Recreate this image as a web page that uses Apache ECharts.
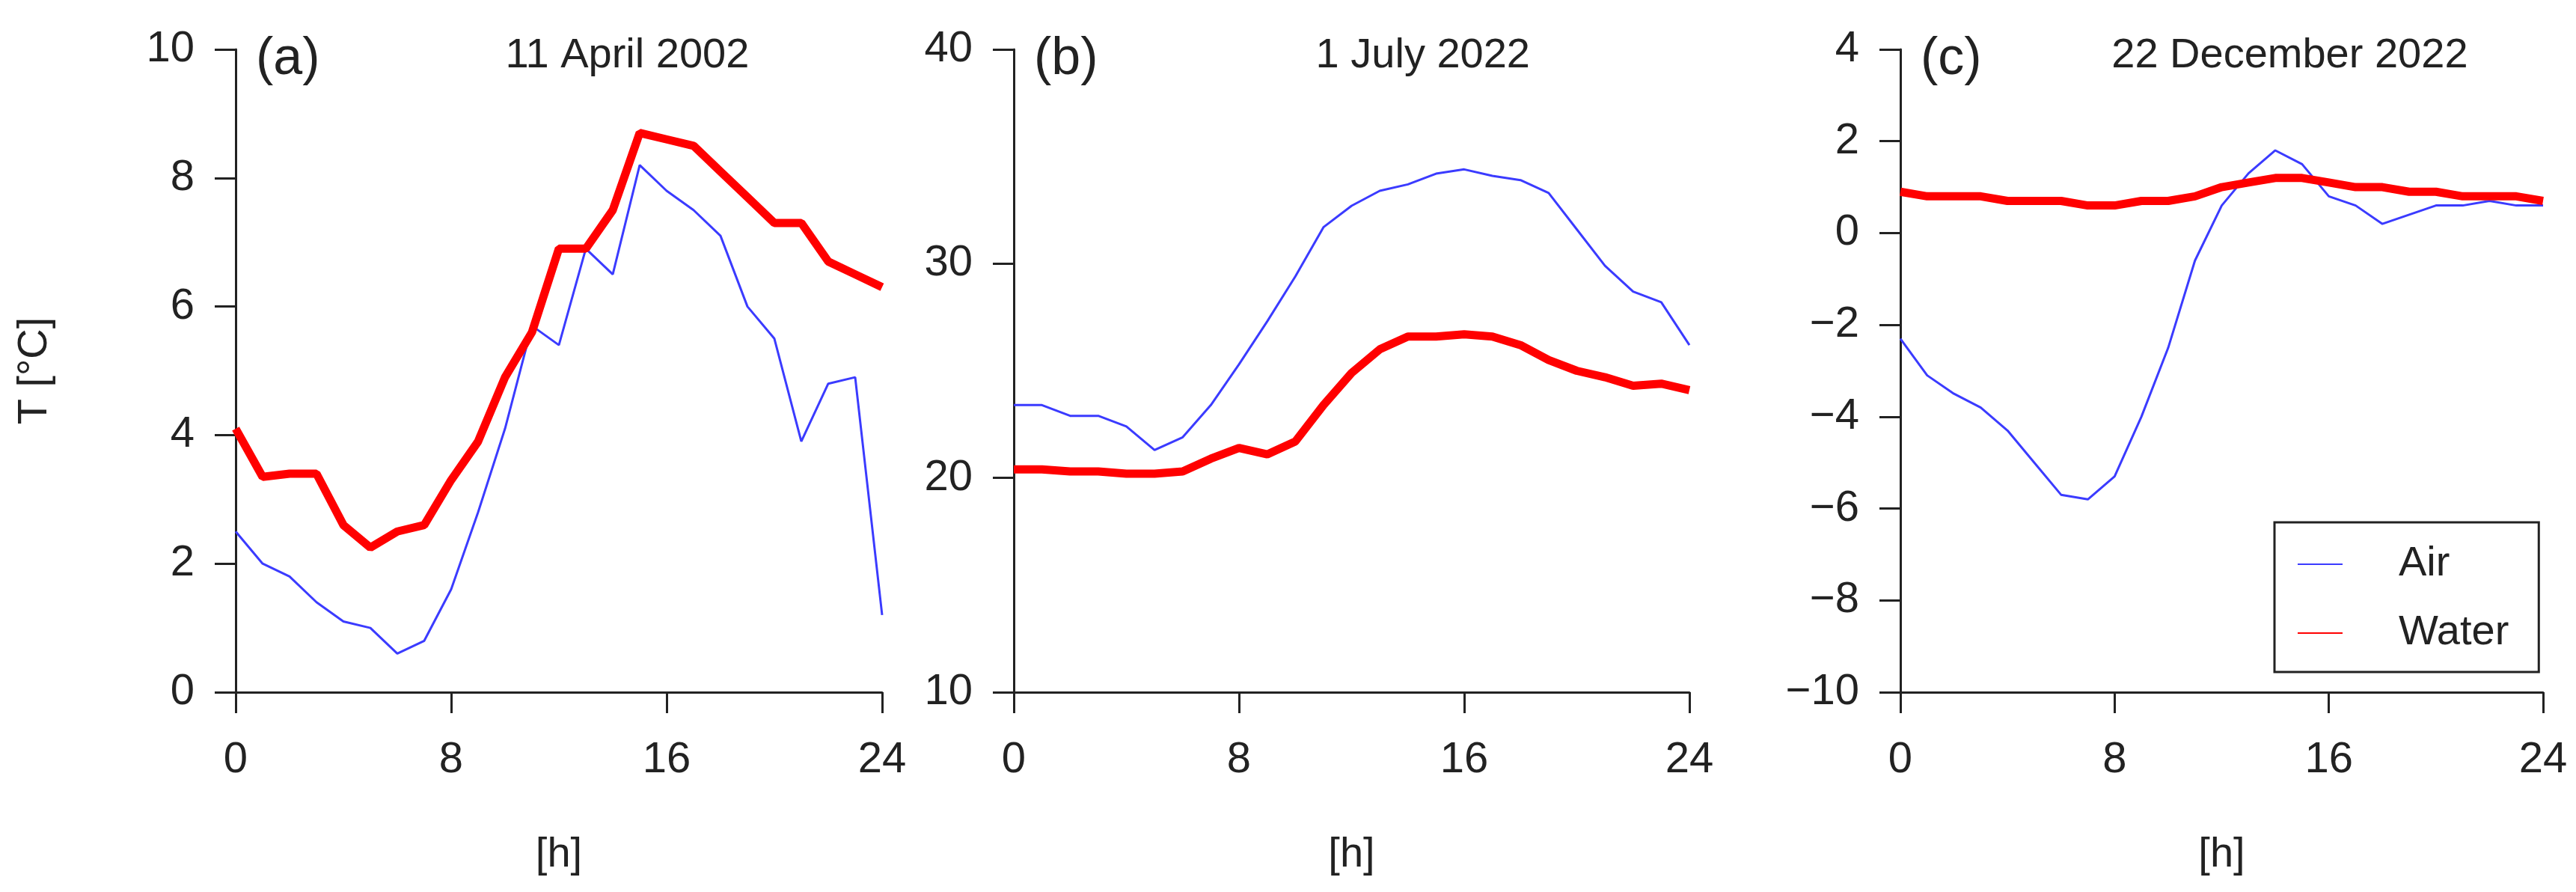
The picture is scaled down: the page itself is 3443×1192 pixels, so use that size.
<!DOCTYPE html>
<html><head><meta charset="utf-8">
<script src="https://cdn.jsdelivr.net/npm/echarts@6/dist/echarts.min.js"></script>
<style>html,body{margin:0;background:#fff}#c{width:3443px;height:1192px}</style>
</head><body><div id="c"></div>
<script>
const hours = Array.from({length:25},(_,i)=>i);
const airA = [2.5,2.0,1.8,1.4,1.1,1.0,0.6,0.8,1.6,2.8,4.1,5.7,5.4,6.9,6.5,8.2,7.8,7.5,7.1,6.0,5.5,3.9,4.8,4.9,1.2];
const waterA = [4.1,3.35,3.4,3.4,2.6,2.25,2.5,2.6,3.3,3.9,4.9,5.6,6.9,6.9,7.5,8.7,8.6,8.5,8.1,7.7,7.3,7.3,6.7,6.5,6.3];
const airB = [23.4,23.4,22.9,22.9,22.4,21.3,21.9,23.4,25.3,27.3,29.4,31.7,32.7,33.4,33.7,34.2,34.4,34.1,33.9,33.3,31.6,29.9,28.7,28.2,26.2];
const waterB = [20.4,20.4,20.3,20.3,20.2,20.2,20.3,20.9,21.4,21.1,21.7,23.4,24.9,26.0,26.6,26.6,26.7,26.6,26.2,25.5,25.0,24.7,24.3,24.4,24.1];
const airC = [-2.3,-3.1,-3.5,-3.8,-4.3,-5.0,-5.7,-5.8,-5.3,-4.0,-2.5,-0.6,0.6,1.3,1.8,1.5,0.8,0.6,0.2,0.4,0.6,0.6,0.7,0.6,0.6];
const waterC = [0.9,0.8,0.8,0.8,0.7,0.7,0.7,0.6,0.6,0.7,0.7,0.8,1.0,1.1,1.2,1.2,1.1,1.0,1.0,0.9,0.9,0.8,0.8,0.8,0.7];
const panels = [
  {tag:'(a)', title:'11 April 2002', air:airA, water:waterA, min:0, max:10, step:2},
  {tag:'(b)', title:'1 July 2022', air:airB, water:waterB, min:10, max:40, step:10},
  {tag:'(c)', title:'22 December 2022', air:airC, water:waterC, min:-10, max:4, step:2}
];
const grids = [{left:315,width:864},{left:1355,width:903},{left:2540,width:859}];
const font = 'Liberation Sans, Arial, sans-serif';
const axisCommon = {
  axisLine:{show:true,onZero:false,lineStyle:{color:'#222',width:3}},
  axisTick:{show:true,inside:false,length:28,lineStyle:{color:'#222',width:3}},
  splitLine:{show:false},
  axisLabel:{color:'#222',fontSize:58,fontFamily:font}
};
const opt = {
  animation:false, backgroundColor:'#fff',
  grid: grids.map(g=>({left:g.left,width:g.width,top:66,bottom:267})),
  xAxis: grids.map((g,i)=>Object.assign({}, axisCommon, {
    type:'value', gridIndex:i, min:0, max:24, interval:8,
    name:'[h]', nameLocation:'middle', nameGap:190,
    nameTextStyle:{fontSize:56,color:'#222',fontFamily:font},
    axisLabel:Object.assign({},axisCommon.axisLabel,{margin:62})
  })),
  yAxis: panels.map((p,i)=>Object.assign({}, axisCommon, {
    type:'value', gridIndex:i, min:p.min, max:p.max, interval:p.step,
    name: i===0 ? 'T [°C]' : '', nameLocation:'middle', nameGap:240,
    nameTextStyle:{fontSize:56,color:'#222',fontFamily:font},
    axisLabel:Object.assign({},axisCommon.axisLabel,{margin:55,
      formatter:v=>String(v).replace('-','\u2212')})
  })),
  legend:{
    data:['Air','Water'], orient:'vertical', left:3040, top:698, width:364,
    padding:[28,40,24,30], itemGap:36, itemWidth:60, itemHeight:16,
    borderColor:'#222', borderWidth:3, backgroundColor:'#fff',
    itemStyle:{opacity:0},
    textStyle:{fontSize:56,color:'#222',fontFamily:font,padding:[0,0,0,70]}
  },
  title: panels.flatMap((p,i)=>[
    {text:p.tag,left:grids[i].left+22,top:40,textStyle:{fontSize:70,fontWeight:'normal',color:'#222',fontFamily:font}},
    {text:p.title,left:grids[i].left+grids[i].width*0.6,textAlign:'center',top:42,textStyle:{fontSize:56,fontWeight:'normal',color:'#222',fontFamily:font}}
  ]),
  series: panels.flatMap((p,i)=>[
    {name:'Air',type:'line',xAxisIndex:i,yAxisIndex:i,symbol:'none',
     data:hours.map((h,k)=>[h,p.air[k]]),lineStyle:{color:'#3b3bff',width:3},itemStyle:{color:'#3b3bff'}},
    {name:'Water',type:'line',xAxisIndex:i,yAxisIndex:i,symbol:'none',
     data:hours.map((h,k)=>[h,p.water[k]]),lineStyle:{color:'#ff0000',width:11},itemStyle:{color:'#ff0000'}}
  ])
};
echarts.init(document.getElementById('c')).setOption(opt);
</script></body></html>
